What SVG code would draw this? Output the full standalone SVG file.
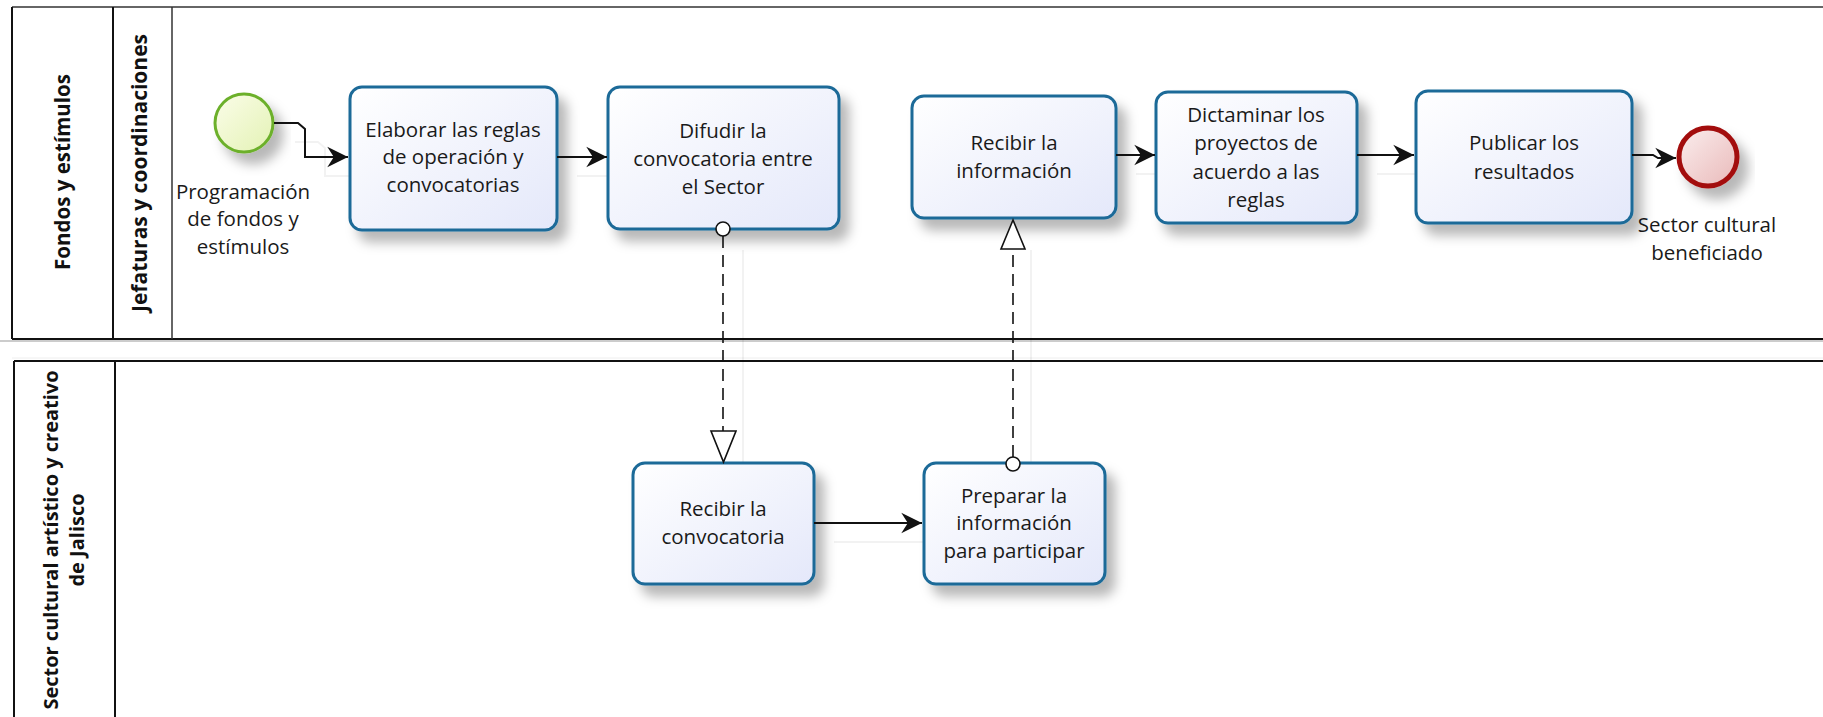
<svg xmlns="http://www.w3.org/2000/svg" width="1823" height="717" viewBox="0 0 1823 717">
  <style>
    .pool { fill: none; stroke: #111; stroke-width: 2; }
    .poolTop { fill: none; stroke: #666; stroke-width: 2; }
    .lbl { font-family: "Open Sans", "Liberation Sans", sans-serif; font-weight: bold; font-size: 20.5px; fill: #111; text-anchor: middle; }
    .txt { font-family: "Open Sans", "Liberation Sans", sans-serif; font-size: 20.5px; fill: #1a1a1a; text-anchor: middle; }
    .task { fill: url(#taskFill); stroke: #1d6a98; stroke-width: 3; filter: url(#shadow); }
    .flow { fill: none; stroke: #111; stroke-width: 2; }
    .msg { fill: none; stroke: #111; stroke-width: 1.6; stroke-dasharray: 12 7; }
    .ghost { fill: none; stroke: #000; stroke-opacity: 0.05; stroke-width: 2; }
  </style>
  <defs>
    <linearGradient id="taskFill" x1="0" y1="0" x2="1" y2="1">
      <stop offset="0" stop-color="#ffffff"/>
      <stop offset="1" stop-color="#e4e8fa"/>
    </linearGradient>
    <linearGradient id="startFill" x1="0" y1="0" x2="1" y2="1">
      <stop offset="0" stop-color="#fbfde9"/>
      <stop offset="1" stop-color="#e3f2b4"/>
    </linearGradient>
    <linearGradient id="endFill" x1="0" y1="0" x2="1" y2="1">
      <stop offset="0" stop-color="#fbeeee"/>
      <stop offset="1" stop-color="#e9b9b9"/>
    </linearGradient>
    <filter id="shadow" x="-20%" y="-20%" width="150%" height="160%">
      <feDropShadow dx="9" dy="11" stdDeviation="6" flood-color="#000" flood-opacity="0.28"/>
    </filter>
    <marker id="arrow" markerUnits="userSpaceOnUse" markerWidth="24" markerHeight="24" viewBox="-20 -10 22 20" refX="0" refY="0" orient="auto">
      <path d="M0,0 L-19,-9.5 L-13,0 L-19,9.5 Z" fill="#111"/>
    </marker>
  </defs>

  <!-- pools and lanes -->
  <g id="pool-fondos">
    <line x1="12" y1="7" x2="1823" y2="7" class="poolTop"/>
    <line x1="12" y1="339" x2="1823" y2="339" class="pool"/>
    <line x1="0" y1="341" x2="1823" y2="341" stroke="#999" stroke-width="1"/>
    <line x1="12" y1="358" x2="1823" y2="358" stroke="#eee" stroke-width="1"/>
    <line x1="12" y1="7" x2="12" y2="339" class="pool"/>
    <line x1="113" y1="7" x2="113" y2="339" class="pool"/>
    <line x1="172" y1="7" x2="172" y2="339" stroke="#333" stroke-width="1.5"/>
    <text class="lbl" transform="translate(63,172) rotate(-90)" dy="7">Fondos y estímulos</text>
  </g>
  <g id="lane-jefaturas">
    <text class="lbl" transform="translate(140,173) rotate(-90)" dy="7" style="font-size:21px">Jefaturas y coordinaciones</text>
  </g>
  <g id="pool-sector">
    <line x1="14" y1="361" x2="1823" y2="361" class="pool"/>
    <line x1="14" y1="361" x2="14" y2="717" class="pool"/>
    <line x1="115" y1="361" x2="115" y2="717" class="pool"/>
    <text class="lbl" transform="translate(51,540) rotate(-90)" dy="7" style="font-size:20px">Sector cultural artístico y creativo</text>
    <text class="lbl" transform="translate(77,540) rotate(-90)" dy="7" style="font-size:20px">de Jalisco</text>
  </g>

  <!-- faint connector shadows -->
  <g id="connector-shadows">
    <path class="ghost" d="M295,142 H318 L325,148 V176 H350"/>
    <path class="ghost" d="M577,176 H609"/>
    <path class="ghost" d="M743,250 V463"/>
    <path class="ghost" d="M1031,250 V463"/>
    <path class="ghost" d="M834,542 H924"/>
    <path class="ghost" d="M1136,174 H1156"/>
    <path class="ghost" d="M1377,174 H1416"/>
  </g>

  <!-- events -->
  <g id="start-event">
    <circle cx="244" cy="123" r="29" fill="url(#startFill)" stroke="#6cb02c" stroke-width="3" filter="url(#shadow)"/>
    <text class="txt" x="243" y="199">Programación</text>
    <text class="txt" x="243" y="226">de fondos y</text>
    <text class="txt" x="243" y="254">estímulos</text>
  </g>
  <g id="end-event">
    <circle cx="1708" cy="157" r="29" fill="url(#endFill)" stroke="#a3100f" stroke-width="5" filter="url(#shadow)"/>
    <text class="txt" x="1707" y="232">Sector cultural</text>
    <text class="txt" x="1707" y="260">beneficiado</text>
  </g>

  <!-- tasks -->
  <g id="task-elaborar">
    <rect class="task" x="350" y="87" width="207" height="143" rx="12"/>
    <text class="txt" x="453" y="137">Elaborar las reglas</text>
    <text class="txt" x="453" y="164">de operación y</text>
    <text class="txt" x="453" y="192">convocatorias</text>
  </g>
  <g id="task-difudir">
    <rect class="task" x="608" y="87" width="231" height="142" rx="12"/>
    <text class="txt" x="723" y="138">Difudir la</text>
    <text class="txt" x="723" y="166">convocatoria entre</text>
    <text class="txt" x="723" y="194">el Sector</text>
  </g>
  <g id="task-recibir-info">
    <rect class="task" x="912" y="96" width="204" height="122" rx="12"/>
    <text class="txt" x="1014" y="150">Recibir la</text>
    <text class="txt" x="1014" y="178">información</text>
  </g>
  <g id="task-dictaminar">
    <rect class="task" x="1156" y="92" width="201" height="131" rx="12"/>
    <text class="txt" x="1256" y="122">Dictaminar los</text>
    <text class="txt" x="1256" y="150">proyectos de</text>
    <text class="txt" x="1256" y="179">acuerdo a las</text>
    <text class="txt" x="1256" y="207">reglas</text>
  </g>
  <g id="task-publicar">
    <rect class="task" x="1416" y="91" width="216" height="132" rx="12"/>
    <text class="txt" x="1524" y="150">Publicar los</text>
    <text class="txt" x="1524" y="179">resultados</text>
  </g>
  <g id="task-recibir-conv">
    <rect class="task" x="633" y="463" width="181" height="121" rx="12"/>
    <text class="txt" x="723" y="516">Recibir la</text>
    <text class="txt" x="723" y="544">convocatoria</text>
  </g>
  <g id="task-preparar">
    <rect class="task" x="924" y="463" width="181" height="121" rx="12"/>
    <text class="txt" x="1014" y="503">Preparar la</text>
    <text class="txt" x="1014" y="530">información</text>
    <text class="txt" x="1014" y="558">para participar</text>
  </g>

  <!-- connectors (drawn above the shapes) -->
  <g id="connectors">
    <path class="flow" d="M274,123 H298 L305,129 V157 H348" marker-end="url(#arrow)"/>
    <path class="flow" d="M557,157 H607" marker-end="url(#arrow)"/>
    <path class="flow" d="M1116,155 H1155" marker-end="url(#arrow)"/>
    <path class="flow" d="M1357,155 H1414" marker-end="url(#arrow)"/>
    <path class="flow" d="M1632,155 H1653 L1658,158 H1676" marker-end="url(#arrow)"/>
    <path class="flow" d="M814,523 H922" marker-end="url(#arrow)"/>
    <!-- message flow: Difudir -> Recibir la convocatoria -->
    <path class="msg" d="M723,236 V431"/>
    <circle cx="723" cy="229" r="7" fill="#fff" stroke="#111" stroke-width="1.6"/>
    <path d="M711,431 L736,431 L723.5,462 Z" fill="#fff" stroke="#111" stroke-width="1.6"/>
    <!-- message flow: Preparar -> Recibir la información -->
    <path class="msg" d="M1013,457 V249"/>
    <circle cx="1013" cy="464" r="7" fill="#fff" stroke="#111" stroke-width="1.6"/>
    <path d="M1001,249 L1025,249 L1013,220 Z" fill="#fff" stroke="#111" stroke-width="1.6"/>
  </g>
</svg>
